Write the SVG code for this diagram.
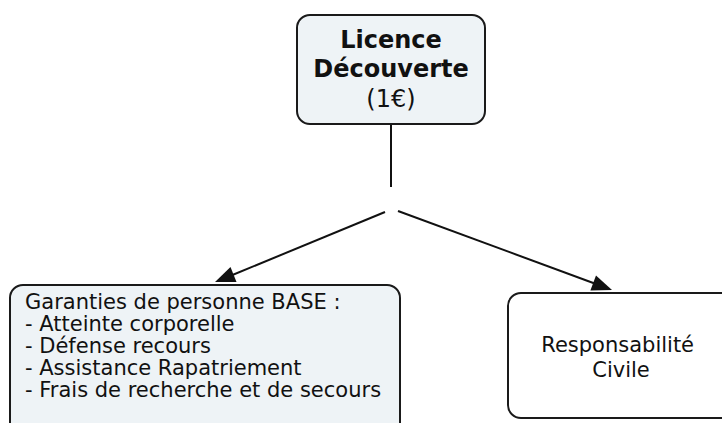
<svg xmlns="http://www.w3.org/2000/svg" width="722" height="423" viewBox="0 0 722 423">
<style>
.box{stroke:#1a1a1a;stroke-width:2}
.blue{fill:#eef3f6}
.white{fill:#ffffff}
.t{font-family:"DejaVu Sans",Verdana,sans-serif;fill:#111}
.conn{stroke:#111;stroke-width:2;fill:none}
.head{fill:#111}
</style>
<rect width="722" height="423" fill="#ffffff"/>
<g id="connectors">
<line class="conn" x1="391" y1="125" x2="391" y2="187"/>
<line class="conn" x1="385" y1="212" x2="230" y2="276"/>
<path class="head" d="M215,282 L230.5,267 L236.5,282 z"/>
<line class="conn" x1="398" y1="211" x2="596" y2="284"/>
<path class="head" d="M612,290 L590.4,290.6 L596,275.6 z"/>
</g>
<g id="n1">
<rect class="box blue" x="297" y="15" width="188" height="109" rx="13"/>
<text class="t" x="391" y="48" font-size="24" font-weight="bold" text-anchor="middle">Licence</text>
<text class="t" x="391" y="77" font-size="24" font-weight="bold" text-anchor="middle">Découverte</text>
<text class="t" x="391" y="107" font-size="24" text-anchor="middle">(1€)</text>
</g>
<g id="n2">
<rect class="box blue" x="10" y="285" width="390" height="160" rx="13"/>
<text class="t" font-size="21">
<tspan x="25" y="309">Garanties de personne BASE :</tspan>
<tspan x="25" y="331">- Atteinte corporelle</tspan>
<tspan x="25" y="353">- Défense recours</tspan>
<tspan x="25" y="375">- Assistance Rapatriement</tspan>
<tspan x="25" y="397">- Frais de recherche et de secours</tspan>
</text>
</g>
<g id="n3">
<rect class="box white" x="508" y="293" width="230" height="125" rx="13"/>
<text class="t" font-size="21" text-anchor="middle">
<tspan x="621" y="352">Responsabilité</tspan>
<tspan x="621" y="377">Civile</tspan>
</text>
</g>
</svg>
